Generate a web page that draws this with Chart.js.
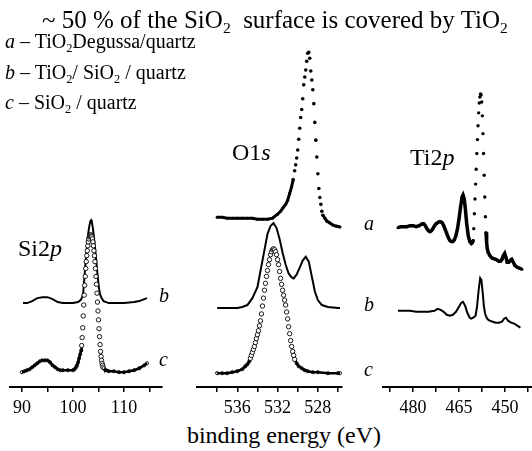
<!DOCTYPE html>
<html><head><meta charset="utf-8">
<script src="https://cdn.jsdelivr.net/npm/chart.js@4.4.0/dist/chart.umd.min.js"></script>
<style>
html,body{margin:0;padding:0;background:#fff;}
#wrap{position:relative;width:532px;height:451px;overflow:hidden;background:#fff;font-family:'Liberation Serif';color:#000;}
.t{position:absolute;white-space:nowrap;line-height:1;}
.s{font-size:0.62em;position:relative;top:0.3em;}
i{font-style:italic;}
canvas{position:absolute;top:0;}
</style></head><body>
<div id="wrap">
<canvas id="si"></canvas><canvas id="ox"></canvas><canvas id="ti"></canvas>
<div class="t" style="left:42px;top:7px;font-size:25px;">~ 50 % of the SiO<span class="s">2</span>&nbsp; surface is covered by TiO<span class="s">2</span></div>
<div class="t" style="left:5px;top:31px;font-size:20px;"><i>a</i> – TiO<span class="s">2</span>Degussa/quartz</div>
<div class="t" style="left:5px;top:62px;font-size:20px;"><i>b</i> – TiO<span class="s">2</span>/ SiO<span class="s">2</span> / quartz</div>
<div class="t" style="left:5px;top:92px;font-size:20px;"><i>c</i> – SiO<span class="s">2</span> / quartz</div>
<div class="t" style="left:232px;top:139.8px;font-size:24px;">O1<i>s</i></div>
<div class="t" style="left:410px;top:144.8px;font-size:24px;">Ti2<i>p</i></div>
<div class="t" style="left:18px;top:235.8px;font-size:24px;">Si2<i>p</i></div>
<div class="t" style="left:159px;top:285px;font-size:20px;"><i>b</i></div>
<div class="t" style="left:159px;top:349px;font-size:20px;"><i>c</i></div>
<div class="t" style="left:364px;top:213px;font-size:20px;"><i>a</i></div>
<div class="t" style="left:364px;top:294px;font-size:20px;"><i>b</i></div>
<div class="t" style="left:364px;top:359px;font-size:20px;"><i>c</i></div>
<div class="t" style="left:0;width:568px;text-align:center;top:423px;font-size:24px;">binding energy (eV)</div>
</div>
<script>
// ---- Si2p (binding energy, eV / intensity, a.u. with stacking offset) ----
const siE_b = [90.2,91,92,93,94,95,96,97,98,99,100,101,101.5,101.8,102,102.2,102.4,102.6,102.8,103,103.2,103.4,103.55,103.7,103.9,104.1,104.3,104.5,104.7,104.9,105.1,105.3,105.6,106,107,108,110,112,113,114,114.5];
const siI_b = [85,85,87,90,91,91,89,86,85,85,85,86,88,91,95,108,122,134,146,156,163,168,169,167,161,152,142,131,120,109,100,94,90,87,85,85,85,86,87,89,90];
const siE_c = [90,90.5,91,91.5,92,92.5,93,93.5,94,94.5,95,95.5,96,96.5,97,97.5,98,99,100,100.3,100.6,100.8,101,101.2,101.4,
  101.6,101.7,101.8,101.9,102.0,102.1,102.2,102.3,102.4,102.5,102.6,102.7,102.8,102.9,103.0,103.1,103.2,103.3,103.4,103.5,
  103.6,103.7,103.8,103.9,104.0,104.1,104.2,104.3,104.4,104.5,104.6,104.7,104.8,104.9,105.0,105.1,105.2,105.3,105.4,105.5,
  105.6,105.7,105.8,105.9,106.0,106.5,107,108,109,110,111,112,113,114,114.5];
const siI_c = [15,16,17,18,20,22,24,26,27,27,27,25,22,20,18,17,17,17,17,18,20,22,25,29,33,
  37,42,50,60,72,83,93,103,112,120,127,133,138,143,147,150,152,153,154,154,
  153,152,150,147,143,138,133,127,120,112,104,95,86,77,68,59,51,43,36,31,
  27,24,22,20,19,17,16,16,15,15,16,17,19,22,24];
// ---- O1s ----
const oE_a = [538,537.5,537,536.5,536,535.5,535,534.5,534,533.5,533,532.5,532,531.7,531.5,531.2,531,530.8,530.6,530.45,
  530.3,530.2,530.1,530.0,529.9,529.8,529.7,529.6,529.5,529.4,529.3,529.2,529.1,529.0,528.9,528.8,528.7,528.6,528.5,528.4,
  528.3,528.2,528.1,528.0,527.9,527.8,527.7,527.6,527.5,527.3,527.1,526.8,526.5,526.2,525.8];
const oI_a = [172,172,171,171,171,171,171,171,170,170,170,171,175,178,181,185,189,196,203,210,
  219,225,232,240,251,262,273,281,292,306,314,321,330,338,339,333,320,311,301,287,
  268,250,233,216,201,192,185,178,174,171,168,166,164,163,162];
const oE_b = [538,537,536,535.5,535,534.5,534,533.5,533,532.7,532.4,532.1,531.8,531.5,531.2,530.9,530.6,530.4,530.1,529.8,529.5,529.2,528.9,528.6,528.3,528,527.6,527,526,525.8];
const oI_b = [80,80,80,81,83,90,101,128,155,163,166,161,150,136,124,115,111,110,114,121,128,132,127,112,97,88,83,81,80,80];
const oE_c = [538,537.5,537,536.5,536,535.5,535.2,535.0,
  534.8,534.7,534.6,534.5,534.4,534.3,534.2,534.1,534.0,533.9,533.8,533.7,533.6,533.5,533.4,533.3,533.2,533.1,533.0,532.9,
  532.8,532.7,532.6,532.5,532.4,532.3,532.2,532.1,532.0,531.9,531.8,531.7,531.6,531.5,531.4,531.3,531.2,531.1,531.0,530.9,
  530.8,530.7,530.6,530.5,530.4,530.3,530.1,529.9,529.6,529.3,529,528.5,528,527,526,525.8];
const oI_c = [14,14,14,15,16,18,21,23,
  26,29,32,35,38,41,45,49,53,57,62,67,74,82,90,98,105,112,118,124,
  129,134,137,139,140,139,137,134,129,124,117,110,104,98,93,88,83,76,69,61,
  54,47,41,36,32,28,24,21,19,17,16,15,15,14,14,14];
// ---- Ti2p ----
const tiE_a = [484.9,484,483,482,481,480,479,478,477,476.5,476,475.5,475,474.5,474,473.5,473,472.5,472,471.5,
  471,470.5,470,469.5,469,468.5,468,467.5,467,466.5,466,465.5,465,464.5,464,463.7,463.3,463,462.5,462,461.5,461,460.6,
  460.4,460.2,460,459.8,459.6,459.4,459.2,459,458.8,458.6,458.4,458.2,458,457.8,457.6,457.4,457.2,457,456.8,456.6,456.4,456.2,
  456,455.8,455.5,455,454.5,454,453,452,451.5,451,450.5,450.1,449.7,449.3,448.8,448.3,447.8,447.3,446.8,446,445.2,444.5];
const tiI_a = [161,162,162,162,163,163,162,163,165,165,163,160,158,157,158,160,163,165,166,167,
  167,166,163,159,155,151,148,147,147,149,153,160,170,182,192,194,190,182,165,153,147,145,146,
  148,160,175,190,205,220,236,250,264,277,287,293,296,295,288,274,256,236,214,192,172,156,
  146,140,136,133,131,130,129,127,127,129,133,135,131,126,126,128,129,126,123,121,120,119];
const tiE_b = [484.9,483,481,479,477,475,473,472,471,470,469,468,467,466,465,464.3,463.7,463,462.3,461.5,461,460.4,459.6,459.1,458.6,458.1,457.7,457.3,456.9,456.5,456,455.5,455,454,453,452,451,450.3,449.7,449,448,447,446,445];
const tiI_b = [77,77,77,76,76,76,77,79,78,76,73,72,73,76,81,85,86,82,75,70,69,70,72,82,98,110,108,96,82,74,70,68,67,66,65,65,66,69,70,67,65,64,62,60];
// ---- ticks ----
const siTicks = [90,95,100,105,110,115], siLabels = [90,100,110];
const oTicks = [538,536,534,532,530,528,526], oLabels = [536,532,528];
const tiTicks = [487.5,480,472.5,465,457.5,450,442.5], tiLabels = [480,465,450];

const AXIS_Y = 387, AXIS_H = 34, PAD = 20;
const FONT = "'Liberation Serif'";
const pts = (E, I) => E.map((e, k) => ({x: e, y: I[k]}));
const inW = (v, w) => w && v >= w[0] && v <= w[1];

function solid(E, I, width) {
  return {data: pts(E, I), showLine: true, borderColor: '#000', borderWidth: width, pointRadius: 0, tension: 0};
}
function dotted(E, I, win, o) {
  return {
    data: pts(E, I), showLine: true, borderColor: '#000', borderWidth: o.lw, tension: 0,
    segment: {borderColor: c => (inW(E[c.p0DataIndex], win) && inW(E[c.p1DataIndex], win)) ? 'rgba(0,0,0,0)' : '#000'},
    pointRadius: c => inW(E[c.dataIndex], win) ? o.r : o.r0,
    pointBackgroundColor: c => o.open ? (inW(E[c.dataIndex], win) ? '#fff' : 'rgba(0,0,0,0)') : '#000',
    pointBorderColor: '#000', pointBorderWidth: o.open ? 0.9 : 0
  };
}
function panel(id, left, right, min, max, reverse, ticks, labels, datasets) {
  const cv = document.getElementById(id);
  cv.width = right - left + 2 * PAD; cv.height = AXIS_Y + AXIS_H;
  cv.style.left = (left - PAD) + 'px';
  new Chart(cv, {
    type: 'scatter',
    data: {datasets},
    options: {
      responsive: false, animation: false, devicePixelRatio: 1,
      layout: {padding: {left: PAD, right: PAD, top: 0, bottom: 0}},
      plugins: {legend: {display: false}, tooltip: {enabled: false}},
      scales: {
        x: {type: 'linear', min, max, reverse,
          afterBuildTicks: s => { s.ticks = ticks.map(v => ({value: v})); },
          afterFit: s => { s.height = AXIS_H; },
          ticks: {callback: v => labels.includes(v) ? String(v) : '', color: '#000', padding: 5,
                  font: {family: FONT, size: 18}, maxRotation: 0, autoSkip: false},
          grid: {display: true, drawOnChartArea: false, drawTicks: true, tickLength: 5, color: '#000', lineWidth: 1.5},
          border: {display: true, color: '#000', width: 2}},
        y: {display: false, min: 0, max: AXIS_Y}
      }
    }
  });
}

panel('si', 10, 162, 87.65, 117.45, false, siTicks, siLabels, [
  dotted(siE_c, siI_c, [101.65, 105.95], {lw: 2.6, r: 2.2, r0: 1.6, open: true}),
  solid(siE_b, siI_b, 2)
]);
panel('ox', 197, 342, 525.6, 540, true, oTicks, oLabels, [
  dotted(oE_a, oI_a, [527.45, 530.46], {lw: 3, r: 1.8, r0: 1.5, open: false}),
  solid(oE_b, oI_b, 2),
  dotted(oE_c, oI_c, [530.25, 534.75], {lw: 2.6, r: 2.2, r0: 1.6, open: true})
]);
panel('ti', 383, 532, 441.2, 489.8, true, tiTicks, tiLabels, [
  dotted(tiE_a, tiI_a, [456.1, 460.5], {lw: 3.5, r: 1.7, r0: 1.5, open: false}),
  solid(tiE_b, tiI_b, 2)
]);
</script>
</body></html>
